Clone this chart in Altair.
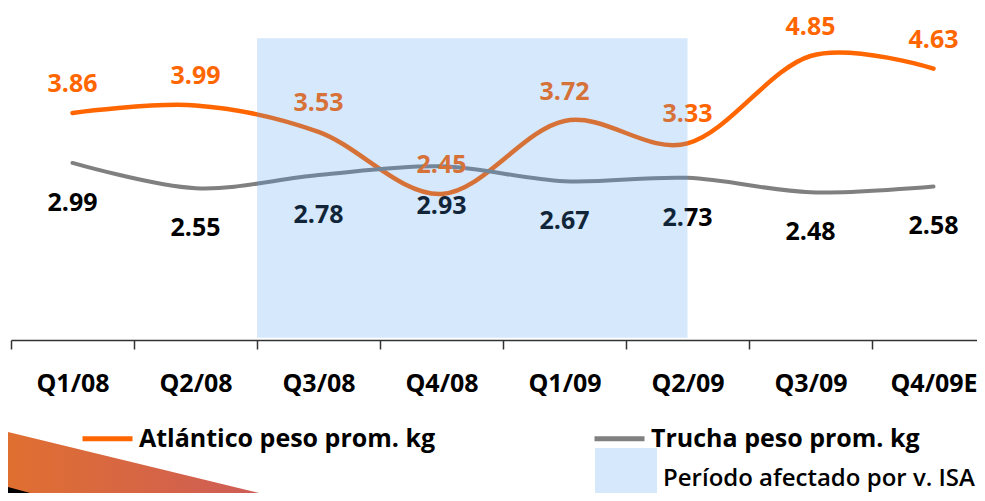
import altair as alt
import pandas as pd

# ---- data ----
quarters = ["Q1/08", "Q2/08", "Q3/08", "Q4/08", "Q1/09", "Q2/09", "Q3/09", "Q4/09E"]
atlantico = [3.86, 3.99, 3.53, 2.45, 3.72, 3.33, 4.85, 4.63]
trucha = [2.99, 2.55, 2.78, 2.93, 2.67, 2.73, 2.48, 2.58]
series_names = ["Atlántico peso prom. kg", "Trucha peso prom. kg"]
affected_label = "Período afectado por v. ISA"
affected_start = "Q3/08"
affected_end = "Q2/09"
affected_top = 5.16
affected_bottom = -0.05

ORANGE = "#FF6600"
GRAY = "#808080"
SHADE = "#4D9BF2"
FONT = "Open Sans"

rows = []
for q, a, t in zip(quarters, atlantico, trucha):
    rows.append({"q": q, "serie": series_names[0], "v": a})
    rows.append({"q": q, "serie": series_names[1], "v": t})
df = pd.DataFrame(rows)
shade_df = pd.DataFrame([{"start": affected_start, "end": affected_end,
                          "top": affected_top, "bottom": affected_bottom,
                          "periodo": affected_label}])

W, H = 984, 328
xscale = alt.Scale(type="band", domain=quarters, paddingInner=0, paddingOuter=0)
yscale = alt.Scale(domain=[-0.09, 5.615], nice=False, zero=False)

x_enc = alt.X("q:N", scale=xscale, sort=quarters, title=None,
              axis=alt.Axis(tickBand="extent", labelAngle=0, labelFont=FONT,
                            labelFontWeight="bold", labelFontSize=25, labelColor="black",
                            labelPadding=22, tickSize=9, tickWidth=1.5, domainWidth=1.5,
                            domainColor="#333333", tickColor="#333333", grid=False))
y_enc = alt.Y("v:Q", scale=yscale, axis=None)

base = alt.Chart(df)

lines = base.mark_line(interpolate="cardinal", strokeCap="round").encode(
    x=x_enc, y=y_enc,
    color=alt.Color("serie:N", scale=alt.Scale(domain=series_names, range=[ORANGE, GRAY]),
                    legend=alt.Legend(orient="none", legendX=69, legendY=399,
                                      direction="horizontal", title=None,
                                      symbolType="stroke", symbolSize=2500,
                                      symbolStrokeWidth=5, labelFont=FONT,
                                      labelFontWeight="bold", labelFontSize=25,
                                      labelColor="black", labelLimit=600,
                                      labelOffset=4, columnPadding=148, padding=0)),
    strokeWidth=alt.StrokeWidth("serie:N", scale=alt.Scale(domain=series_names, range=[4.5, 4]),
                                legend=None),
)

labels_a = base.transform_filter(alt.datum.serie == series_names[0]).mark_text(
    font=FONT, fontWeight="bold", fontSize=25, dy=-29, baseline="middle", color=ORANGE
).encode(x=alt.X("q:N", scale=xscale, sort=quarters), y=y_enc, text=alt.Text("v:Q", format=".2f"))

labels_t = base.transform_filter(alt.datum.serie == series_names[1]).mark_text(
    font=FONT, fontWeight="bold", fontSize=25, dy=40, baseline="middle", color="black"
).encode(x=alt.X("q:N", scale=xscale, sort=quarters), y=y_enc, text=alt.Text("v:Q", format=".2f"))

shade = alt.Chart(shade_df).mark_rect(opacity=0.23).encode(
    x=alt.X("start:N", scale=xscale, bandPosition=0),
    x2=alt.X2("end:N", bandPosition=0.5),
    y=alt.Y("top:Q", scale=yscale),
    y2="bottom:Q",
    fill=alt.Fill("periodo:N", scale=alt.Scale(range=[SHADE]),
                  legend=alt.Legend(orient="none", legendX=584, legendY=436, title=None,
                                    symbolType="square", symbolSize=3844,
                                    symbolOpacity=0.23, symbolStrokeWidth=0,
                                    labelFont=FONT, labelFontWeight=600, labelFontSize=24,
                                    labelColor="black", labelLimit=600, labelOffset=6,
                                    padding=0)),
)

# decorative slide wedge, bottom-left
deco_df = pd.DataFrame({"d": [0]})
wedge = alt.Chart(deco_df).mark_point(
    shape="M-1,-0.2333L0.9467,0.24L0.9467,0.4L-1,0.4Z", filled=True, size=90000,
    opacity=1, strokeWidth=0,
    fill=alt.LinearGradient(gradient="linear", x1=0, x2=1, y1=0, y2=0,
                            stops=[alt.GradientStop(color="#E0702F", offset=0),
                                   alt.GradientStop(color="#CC5A5C", offset=1)]),
).encode(x=alt.value(139), y=alt.value(453))
wedge_dark = alt.Chart(deco_df).mark_point(
    shape="M-1,-1L1,-0.47L1,1L-1,1Z", filled=True, size=3600, opacity=1,
    strokeWidth=0, fill="#000000",
).encode(x=alt.value(19), y=alt.value(503))

chart = alt.layer(lines, labels_a, labels_t, shade, wedge, wedge_dark).resolve_scale(
    color="independent"
).properties(
    width=W, height=H,
    autosize=alt.AutoSizeParams(type="none"),
    padding={"left": 3, "top": 4, "right": -18, "bottom": 153},
).configure_view(stroke=None)

chart.save("out.html", embed_options={"renderer": "svg", "actions": False})
